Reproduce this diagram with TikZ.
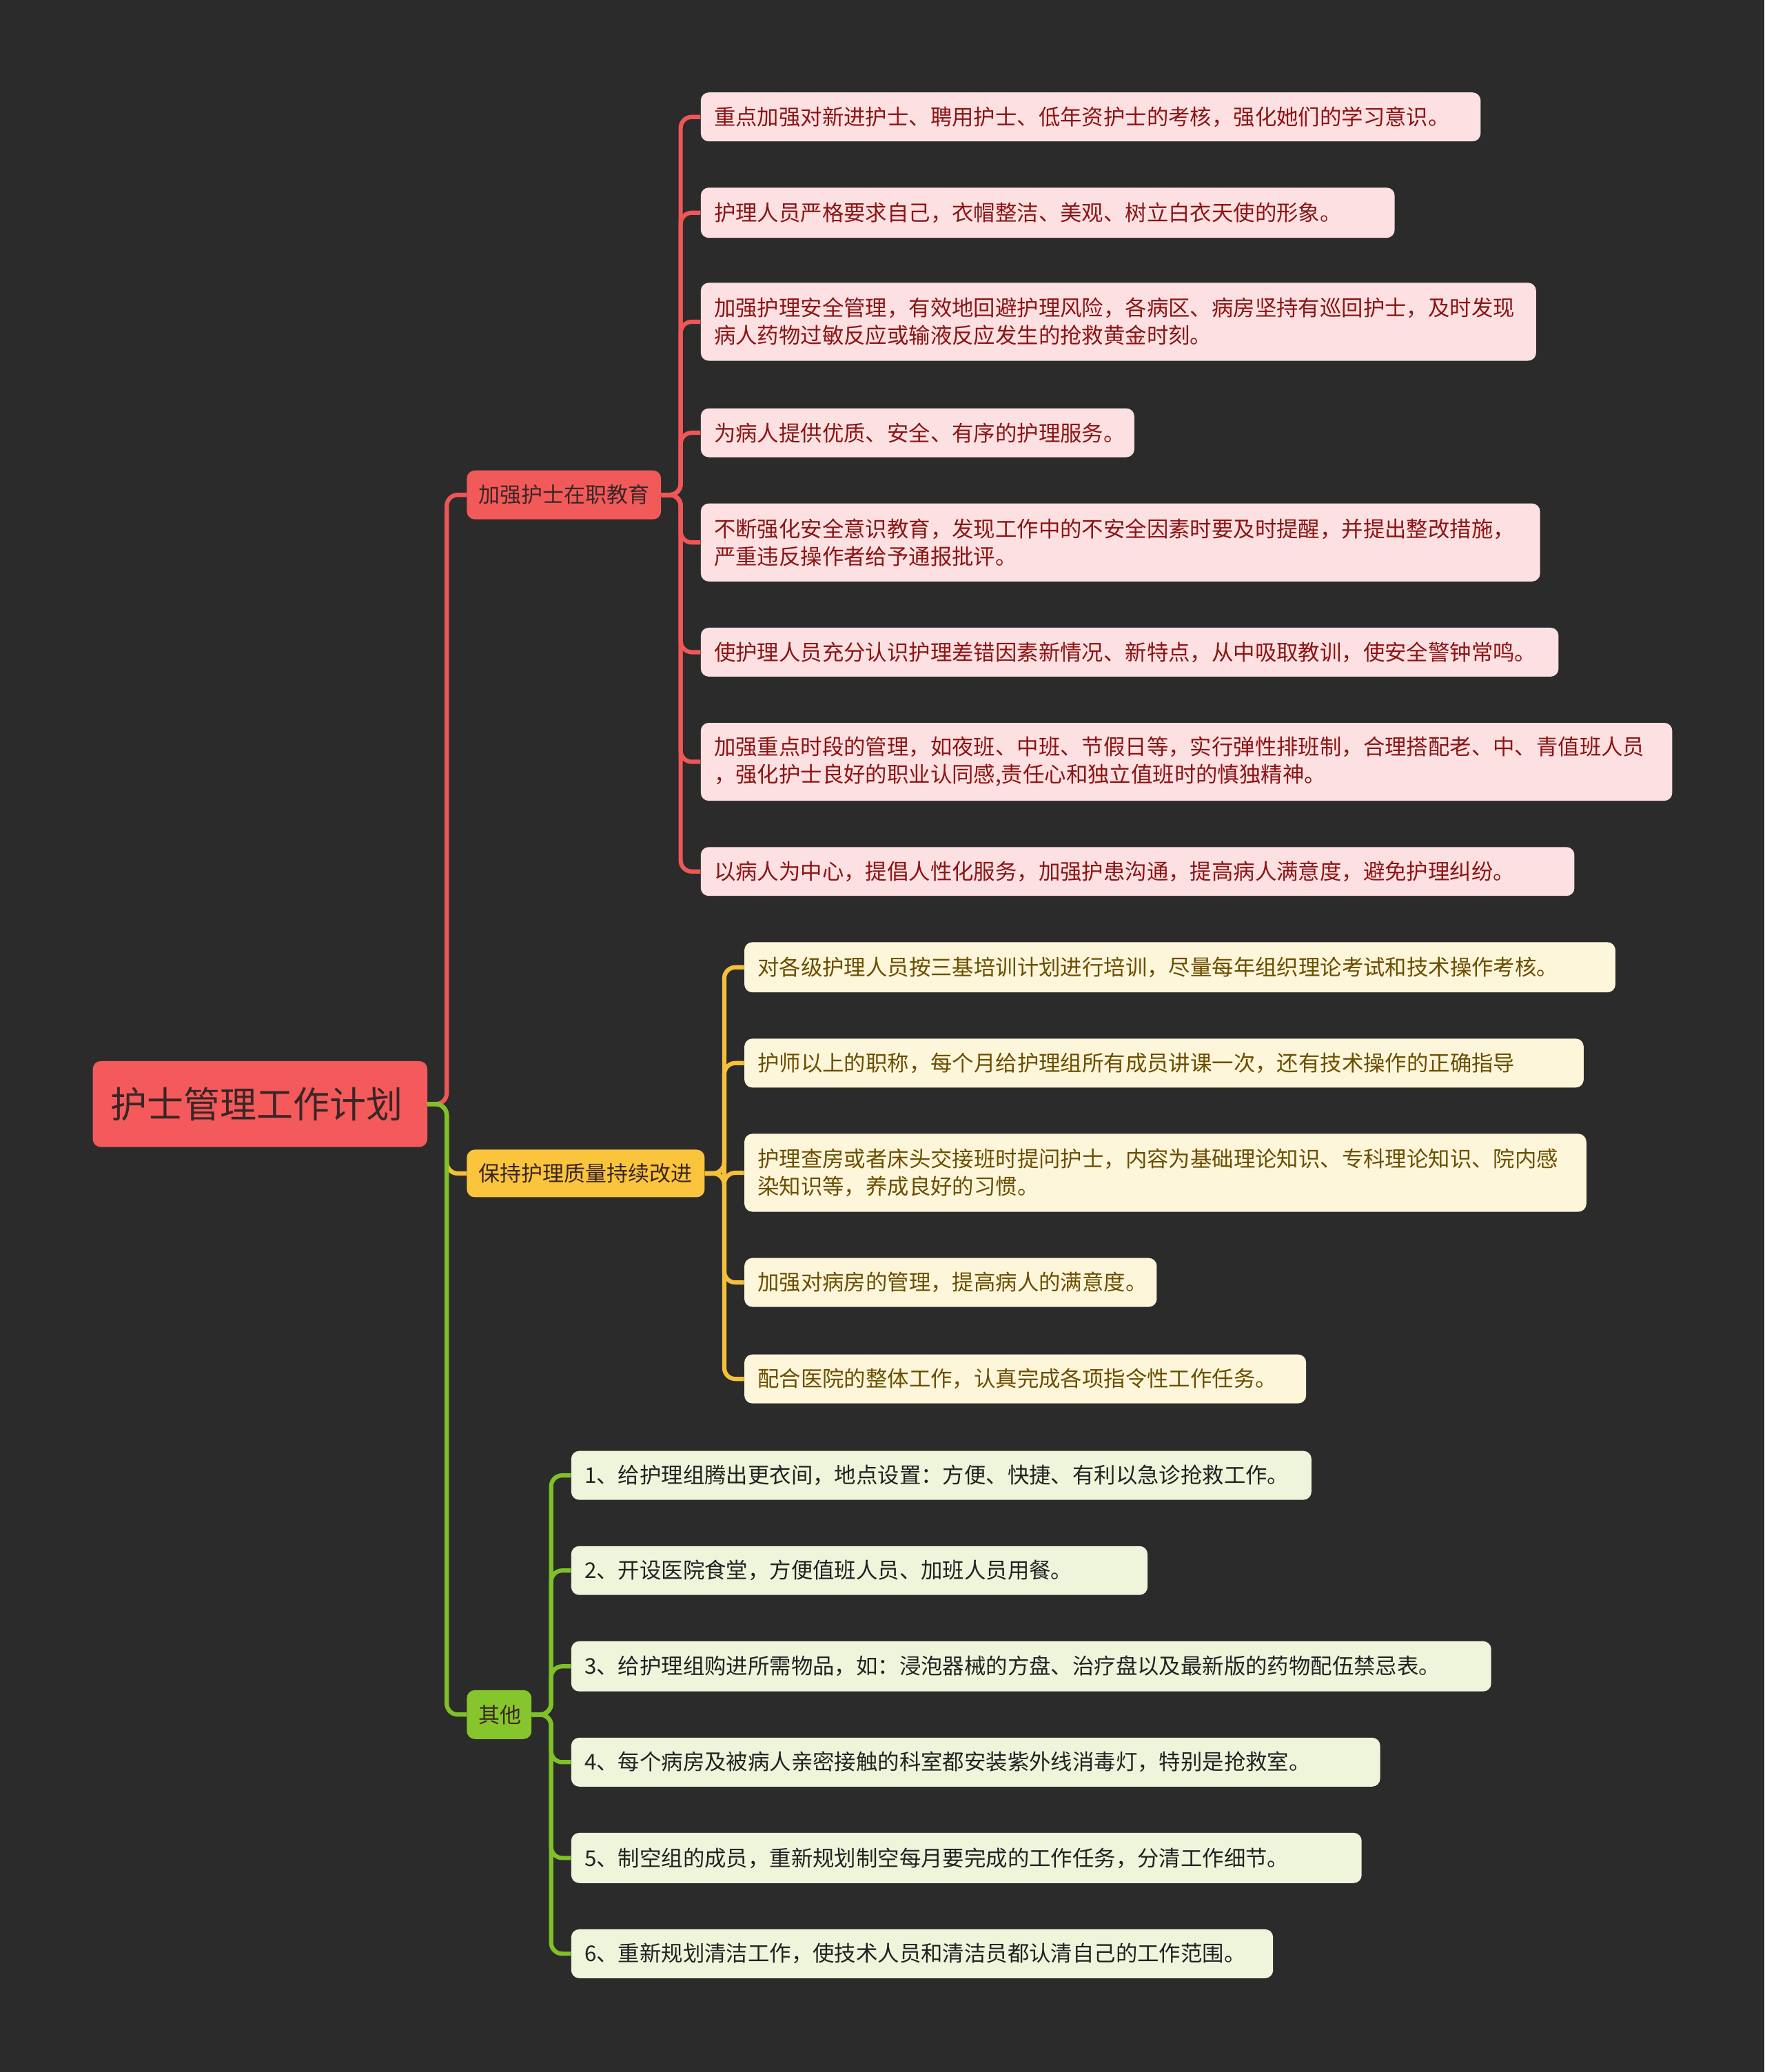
\documentclass[tikz,border=0pt]{standalone}
\usepackage{fontspec}
\setmainfont{Noto Sans CJK SC}
\definecolor{bgc}{HTML}{2B2B2B}
\definecolor{rootc}{HTML}{F45A5B}
\definecolor{redc}{HTML}{F25A5A}
\definecolor{redl}{HTML}{F05656}
\definecolor{pinkf}{HTML}{FDE0E1}
\definecolor{pinkt}{HTML}{8B1515}
\definecolor{yelc}{HTML}{FAC53C}
\definecolor{yell}{HTML}{F5C03A}
\definecolor{creamf}{HTML}{FDF6DA}
\definecolor{creamt}{HTML}{6B4E00}
\definecolor{grnc}{HTML}{86C52C}
\definecolor{grnl}{HTML}{7FC126}
\definecolor{grnf}{HTML}{EEF5DB}
\definecolor{grnt}{HTML}{222222}
\definecolor{darkt}{HTML}{3A2626}
\tikzset{
  box/.style={rectangle, rounded corners=5.8pt, anchor=west, inner xsep=9.6pt, inner ysep=0pt, align=left,
    font=\fontsize{15.7}{20}\selectfont},
  bw/.style={text width={(#1-20)*0.9588pt}},
  tw/.style={text width={#1*0.9588pt}},
  bh/.style={minimum height={#1*0.9588pt}},
  redleaf/.style={box, fill=pinkf, text=pinkt},
  yelleaf/.style={box, fill=creamf, text=creamt},
  grnleaf/.style={box, fill=grnf, text=grnt},
  branchbox/.style={box, text=darkt, inner xsep=8.6pt, font=\fontsize{15.5}{20}\selectfont},
  link/.style={line width=3.1pt, rounded corners=8pt},
}
\begin{document}
\begin{tikzpicture}[x=0.9588pt, y=-0.9588pt]
\fill[bgc] (0,0) rectangle (1335,1568);
\useasboundingbox (0,0) rectangle (1335,1568);

% root
\node[box, fill=rootc, text=darkt, tw=226, bh=65, inner xsep=13pt, font=\fontsize{26.5}{30}\selectfont] (root) at (70,835.5) {护士管理工作计划};

% branches
\node[branchbox, fill=redc, tw=129, bh=37] (b1) at (353,374.5) {加强护士在职教育};
\node[branchbox, fill=yelc, tw=162, bh=36] (b2) at (353,888) {保持护理质量持续改进};
\node[branchbox, fill=grnc, tw=31, bh=37] (b3) at (353,1297.5) {其他};

% branch 1 leaves
\node[redleaf, bw=590, bh=37] (l1) at (530,88.5) {重点加强对新进护士、聘用护士、低年资护士的考核，强化她们的学习意识。};
\node[redleaf, bw=525, bh=38] (l2) at (530,161) {护理人员严格要求自己，衣帽整洁、美观、树立白衣天使的形象。};
\node[redleaf, bw=632, bh=59] (l3) at (530,243.5) {加强护理安全管理，有效地回避护理风险，各病区、病房坚持有巡回护士，及时发现\\病人药物过敏反应或输液反应发生的抢救黄金时刻。};
\node[redleaf, bw=328, bh=37] (l4) at (530,327.5) {为病人提供优质、安全、有序的护理服务。};
\node[redleaf, bw=635, bh=59] (l5) at (530,410.5) {不断强化安全意识教育，发现工作中的不安全因素时要及时提醒，并提出整改措施，\\严重违反操作者给予通报批评。};
\node[redleaf, bw=649, bh=37] (l6) at (530,493.5) {使护理人员充分认识护理差错因素新情况、新特点，从中吸取教训，使安全警钟常鸣。};
\node[redleaf, bw=735, bh=59] (l7) at (530,576.5) {加强重点时段的管理，如夜班、中班、节假日等，实行弹性排班制，合理搭配老、中、青值班人员\\，强化护士良好的职业认同感,责任心和独立值班时的慎独精神。};
\node[redleaf, bw=661, bh=37] (l8) at (530,659.5) {以病人为中心，提倡人性化服务，加强护患沟通，提高病人满意度，避免护理纠纷。};

% branch 2 leaves
\node[yelleaf, bw=659, bh=38] (y1) at (563,732) {对各级护理人员按三基培训计划进行培训，尽量每年组织理论考试和技术操作考核。};
\node[yelleaf, bw=635, bh=37] (y2) at (563,804.5) {护师以上的职称，每个月给护理组所有成员讲课一次，还有技术操作的正确指导};
\node[yelleaf, bw=637, bh=59] (y3) at (563,887.5) {护理查房或者床头交接班时提问护士，内容为基础理论知识、专科理论知识、院内感\\染知识等，养成良好的习惯。};
\node[yelleaf, bw=312, bh=37] (y4) at (563,970.5) {加强对病房的管理，提高病人的满意度。};
\node[yelleaf, bw=425, bh=37] (y5) at (563,1043.5) {配合医院的整体工作，认真完成各项指令性工作任务。};

% branch 3 leaves
\node[grnleaf, bw=560, bh=37] (g1) at (432,1116.5) {1、给护理组腾出更衣间，地点设置：方便、快捷、有利以急诊抢救工作。};
\node[grnleaf, bw=436, bh=37] (g2) at (432,1188.5) {2、开设医院食堂，方便值班人员、加班人员用餐。};
\node[grnleaf, bw=696, bh=38] (g3) at (432,1261) {3、给护理组购进所需物品，如：浸泡器械的方盘、治疗盘以及最新版的药物配伍禁忌表。};
\node[grnleaf, bw=612, bh=37] (g4) at (432,1333.5) {4、每个病房及被病人亲密接触的科室都安装紫外线消毒灯，特别是抢救室。};
\node[grnleaf, bw=598, bh=38] (g5) at (432,1406) {5、制空组的成员，重新规划制空每月要完成的工作任务，分清工作细节。};
\node[grnleaf, bw=531, bh=37] (g6) at (432,1478.5) {6、重新规划清洁工作，使技术人员和清洁员都认清自己的工作范围。};

% root connectors
\coordinate (rj) at (338,835.5);
\draw[link, redl] (root.east) -- (rj) |- (b1.west);
\draw[link, yell] (root.east) -- (rj) |- (b2.west);
\draw[link, grnl] (root.east) -- (rj) |- (b3.west);

% branch connectors
\coordinate (j1) at (515,374.5);
\foreach \n in {l1,l2,l3,l4,l5,l6,l7,l8}
  \draw[link, redl] (b1.east) -- (j1) |- (\n.west);
\coordinate (j2) at (548,888);
\foreach \n in {y1,y2,y3,y4,y5}
  \draw[link, yell] (b2.east) -- (j2) |- (\n.west);
\coordinate (j3) at (417,1297.5);
\foreach \n in {g1,g2,g3,g4,g5,g6}
  \draw[link, grnl] (b3.east) -- (j3) |- (\n.west);
\end{tikzpicture}
\end{document}
